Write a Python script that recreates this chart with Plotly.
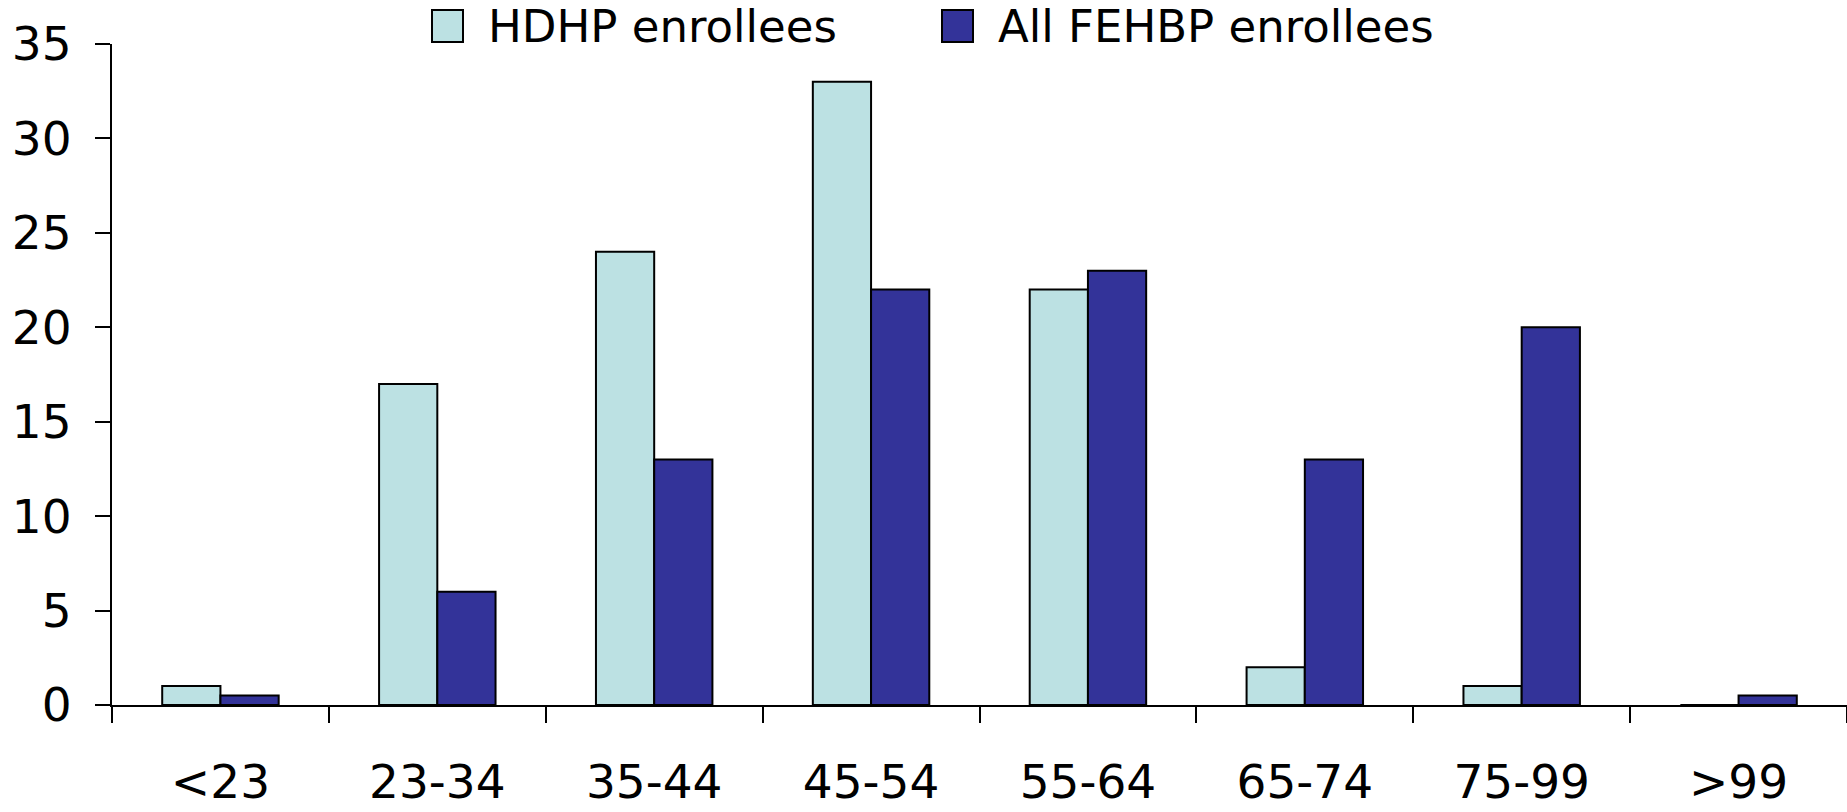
import plotly.graph_objects as go

# Age-group distribution of enrollees (percent)
age_groups = ["<23", "23-34", "35-44", "45-54", "55-64", "65-74", "75-99", ">99"]
hdhp_pct = [1, 17, 24, 33, 22, 2, 1, 0]
all_fehbp_pct = [0.5, 6, 13, 22, 23, 13, 20, 0.5]
series_names = ["HDHP enrollees", "All FEHBP enrollees"]
series_colors = ["#BCE1E3", "#333399"]
y_ticks = [0, 5, 10, 15, 20, 25, 30, 35]

W, H = 1847, 812
L, R, T, B = 112, 0, 44, 107
FONT = "DejaVu Sans"

fig = go.Figure()
for name, vals, col in zip(series_names, [hdhp_pct, all_fehbp_pct], series_colors):
    fig.add_trace(go.Bar(
        x=age_groups, y=vals, name=name,
        marker=dict(color=col, line=dict(color="black", width=2)),
        showlegend=False,
    ))

# Legend drawn as large swatches with labels above the plot
pw, ph = W - L - R, H - T - B
def px_x(px):
    return (px - L) / pw
def px_y(py):
    return (H - B - py) / ph

legend_items = [(432, 463, 486), (942, 973, 996)]
for (x0, x1, tx), name, col in zip(legend_items, series_names, series_colors):
    fig.add_shape(type="rect", xref="paper", yref="paper",
                  x0=px_x(x0), x1=px_x(x1), y0=px_y(42), y1=px_y(10),
                  fillcolor=col, line=dict(color="black", width=2))
    fig.add_annotation(xref="paper", yref="paper", x=px_x(tx), y=px_y(27),
                       xanchor="left", yanchor="middle", text=name,
                       showarrow=False, font=dict(family=FONT, size=45, color="black"))

fig.update_layout(
    width=W, height=H,
    margin=dict(l=L, r=R, t=T, b=B, pad=0, autoexpand=False),
    paper_bgcolor="white", plot_bgcolor="white",
    barmode="group", bargap=0.463, bargroupgap=0,
    font=dict(family=FONT, color="black"),
)
fig.update_xaxes(
    type="category", tickson="boundaries",
    ticks="outside", ticklen=16, tickwidth=2, tickcolor="black",
    showline=True, linecolor="black", linewidth=2,
    showgrid=False, zeroline=False, automargin=False,
    tickfont=dict(family=FONT, size=47, color="black"),
    ticklabelstandoff=35,
)
fig.update_yaxes(
    range=[0, 35], tickvals=y_ticks,
    ticks="outside", ticklen=15, tickwidth=2, tickcolor="black",
    showline=True, linecolor="black", linewidth=2,
    showgrid=False, zeroline=False, automargin=False,
    tickfont=dict(family=FONT, size=47, color="black"),
    ticklabelstandoff=14,
)

fig.write_html("out.html")
